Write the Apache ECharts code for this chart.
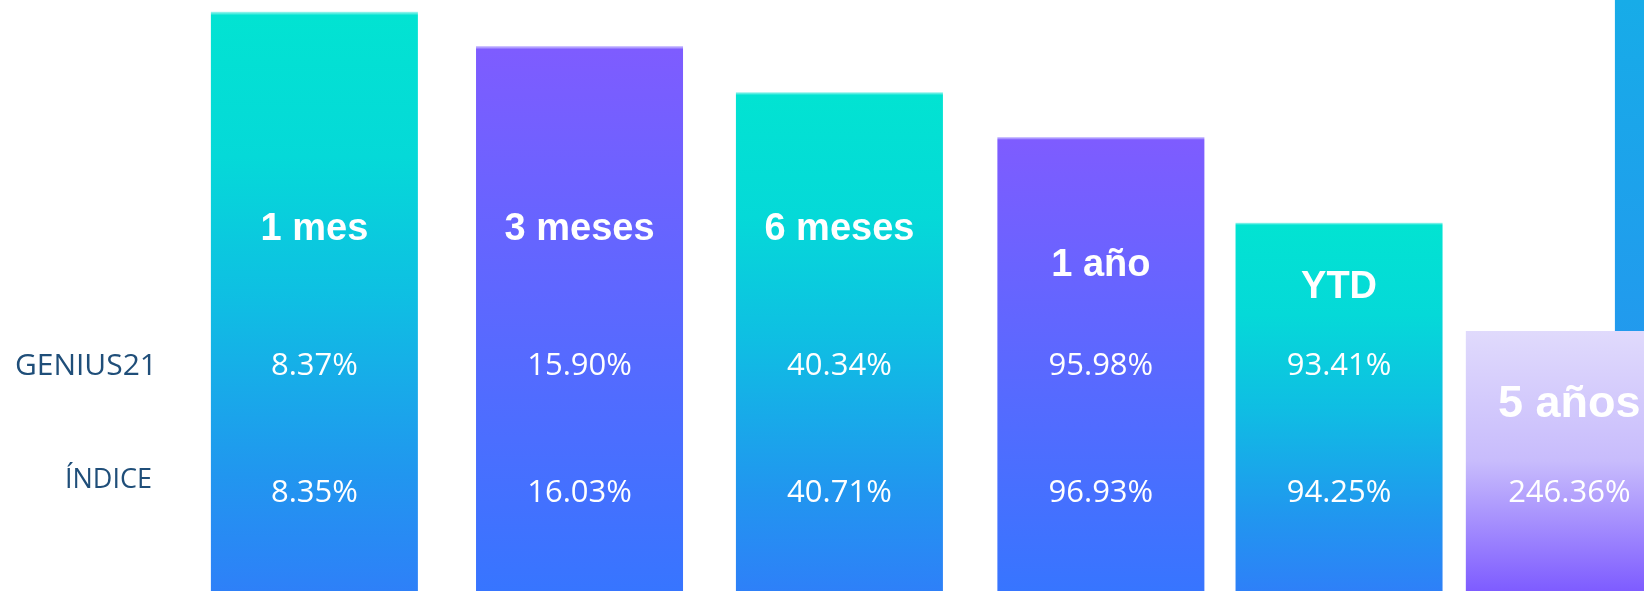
<!DOCTYPE html>
<html>
<head>
<meta charset="utf-8">
<title>Rentabilidad GENIUS21</title>
<script src="https://cdn.jsdelivr.net/npm/echarts@6/dist/echarts.min.js"></script>
<style>
    html, body {margin: 0; padding: 0; background: #ffffff;}
    #main {width: 1644px; height: 591px;}
</style>
</head>
<body>
<div id="main"></div>
<script>
// datos de la tabla
let periods = ["1 mes", "3 meses", "6 meses", "1 año", "YTD", "5 años", ""]
let genius = ["8.37%", "15.90%", "40.34%", "95.98%", "93.41%", null, null]
let indice = ["8.35%", "16.03%", "40.71%", "96.93%", "94.25%", "246.36%", null]
let rows = ["GENIUS21", "ÍNDICE"]
// altura de cada columna (decorativa, % del alto)
let level = [98.0, 92.2, 84.4, 76.8, 62.3, 44.0, 150]

// layout: posicion de columnas y textos en unidades de los ejes
let slot = [1.0, 2.012, 3.004, 4.002, 4.911, 5.79, 6.359]
let nameLevel = [61.1, 61.1, 61.2, 55.1, 51.4, 31.6]
let rowLevel = [38.0, 16.5]
let kind = ["teal", "purple", "teal", "purple", "teal", "lilac", "blue"]

function grad(k) {
    let stops = {
        teal: [[0, '#a6f5ef'], [0.006, '#02e3d2'], [0.25, '#05d9d8'], [0.5, '#0fbee3'], [0.8, '#2196ef'], [1, '#2e80f8']],
        purple: [[0, '#d6ceff'], [0.006, '#7e5cff'], [1, '#3775ff']],
        lilac: [[0, '#e0dafc'], [0.5, '#c8bcfc'], [1, '#7e5cff']],
        // la barra se recorta al area visible, el degradado va sobre esa parte
        blue: [[0, '#17ace8'], [1, '#2a8cf2']]
    }[k]
    return new echarts.graphic.LinearGradient(0, 0, 0, 1,
        stops.map(s => ({offset: s[0], color: s[1]})))
}

let barData = []
for (let i = 0; i < level.length; i++) {
    barData.push({value: [slot[i], level[i]], itemStyle: {color: grad(kind[i])}})
}
// la ultima columna queda detras de "5 años"
barData.reverse()

let nameData = []
for (let i = 0; i < nameLevel.length; i++) {
    nameData.push({
        value: [slot[i], nameLevel[i]],
        label: {formatter: periods[i], fontSize: i === 5 ? 45 : 38}
    })
}
let rowData = [[], []]
for (let i = 0; i < slot.length; i++) {
    if (genius[i] != null) rowData[0].push({value: [slot[i], rowLevel[0]], label: {formatter: genius[i]}})
    if (indice[i] != null) rowData[1].push({value: [slot[i], rowLevel[1]], label: {formatter: indice[i]}})
}

let textSeries = function (data, font) {
    return {
        type: 'scatter',
        symbolSize: 1,
        silent: true,
        itemStyle: {color: 'rgba(0,0,0,0)', opacity: 1},
        label: Object.assign({
            show: true,
            position: 'inside',
            color: '#ffffff',
            textBorderWidth: 0,
            verticalAlign: 'middle',
            align: 'center'
        }, font),
        data: data,
        z: 5
    }
}

let chart = echarts.init(document.getElementById('main'))
chart.setOption({
    animation: false,
    backgroundColor: '#ffffff',
    grid: {left: 0, right: 0, top: 0, bottom: 0},
    xAxis: {type: 'value', min: -0.2, max: 6.075, show: false, splitLine: {show: false}},
    yAxis: {type: 'value', min: 0, max: 100, show: false, splitLine: {show: false}},
    series: [
        {
            type: 'bar',
            barWidth: 207,
            silent: true,
            clip: true,
            data: barData
        },
        textSeries(nameData, {fontFamily: 'Liberation Sans', fontWeight: 'bold'}),
        textSeries(rowData[0], {fontFamily: 'Open Sans', fontSize: 31}),
        textSeries(rowData[1], {fontFamily: 'Open Sans', fontSize: 31})
    ]
})

// nombres de fila a la izquierda
let rowSize = [30, 27]
let rowRight = [157, 152]
chart.setOption({
    graphic: rows.map((r, k) => ({
        type: 'text',
        x: rowRight[k],
        y: chart.convertToPixel({yAxisIndex: 0}, rowLevel[k]) - (k === 1 ? 13 : 0),
        style: {
            text: r,
            fill: '#1f4e79',
            font: rowSize[k] + 'px "Open Sans"',
            textAlign: 'right',
            textVerticalAlign: 'middle'
        }
    }))
})
</script>
</body>
</html>
